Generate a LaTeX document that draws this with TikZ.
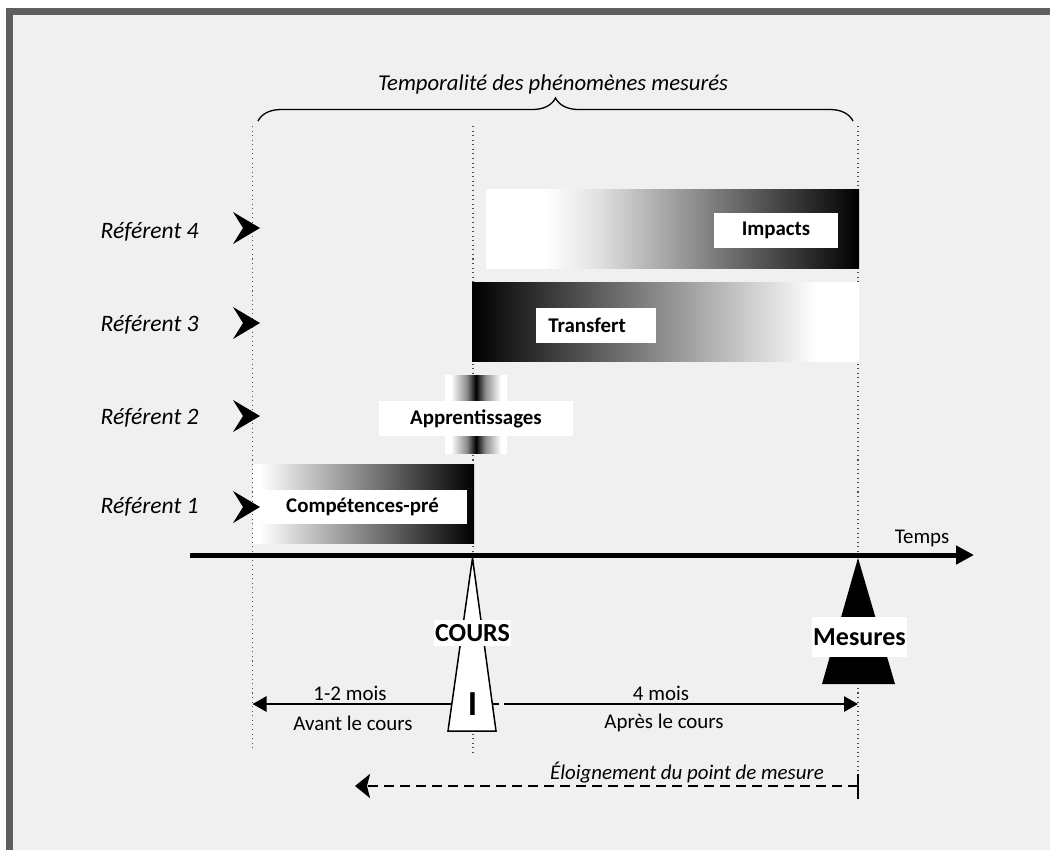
\documentclass[tikz,border=0pt]{standalone}
\usepackage{fontspec}
\setmainfont{Carlito}
\usetikzlibrary{arrows.meta,decorations.pathreplacing}

% gradients for the bars (central 25bp..75bp is stretched over the bar)
\pgfdeclarehorizontalshading{fadeToBlack}{100bp}{color(0bp)=(white); color(25bp)=(white); color(33bp)=(white); color(40bp)=(black!12); color(75bp)=(black); color(100bp)=(black)}
\pgfdeclarehorizontalshading{fadeFromBlack}{100bp}{color(0bp)=(black); color(25bp)=(black); color(69.5bp)=(white); color(100bp)=(white)}
\pgfdeclarehorizontalshading{preShade}{100bp}{color(0bp)=(white); color(26.5bp)=(white); color(75bp)=(black); color(100bp)=(black)}
\pgfdeclarehorizontalshading{peakShade}{100bp}{color(0bp)=(white); color(30bp)=(white); color(42.5bp)=(black!45); color(50bp)=(black); color(57.5bp)=(black!45); color(70bp)=(white); color(100bp)=(white)}

\definecolor{frameGray}{HTML}{5F5F5F}
\definecolor{paper}{HTML}{F0F0F0}

\tikzset{
  txt/.style={inner sep=0, font=\fontsize{11.9}{14}\selectfont},
  itxt/.style={inner sep=0, font=\fontsize{11.9}{14}\selectfont\itshape},
  reflab/.style={inner sep=0, font=\fontsize{13.4}{16}\selectfont\itshape, anchor=east},
  wbox/.style={fill=white, inner sep=0, font=\fontsize{11.9}{14}\selectfont\bfseries, minimum height=0.7cm},
  bigbox/.style={fill=white, inner sep=0, font=\fontsize{14.8}{17}\selectfont\bfseries},
  dotline/.style={dotted, line width=0.6pt, black!70},
  timeline/.style={line width=0.1cm, -{Triangle[length=0.36cm,width=0.36cm]}},
  spanarrow/.style={line width=0.055cm, -{Triangle[length=0.28cm,width=0.3cm]}},
  farther/.style={line width=0.05cm, dash pattern=on 0.2cm off 0.12cm, -{Stealth[length=0.3cm,width=0.48cm,inset=0.06cm]}},
  refarrow/.pic={\fill[black] (-13.5,-16) -- (13.5,0) -- (-13.5,16) -- (-3.5,0) -- cycle;}
}

\begin{document}
\begin{tikzpicture}[x=0.02cm, y=-0.02cm]
\useasboundingbox (0,0) rectangle (1050,850);

% frame and paper
\fill[white] (0,0) rectangle (1050,850);
\fill[frameGray] (6,8) rectangle (1050,850);
\fill[paper] (13,15) rectangle (1050,850);

% title and brace
\node[inner sep=0, font=\fontsize{12.9}{15}\selectfont\itshape] (title) at (553,84) {Temporalité des phénomènes mesurés};
\coordinate (braceL) at (258,121);
\coordinate (braceR) at (853,121);
\draw[decorate, decoration={brace, amplitude=0.46cm}, line width=0.75pt] (braceL) -- (braceR);

% vertical guides
\coordinate (gAtop) at (252.5,126); \coordinate (gAbot) at (252.5,748);
\coordinate (gBtop) at (473,126);   \coordinate (gBbot) at (473,755);
\coordinate (gCtop) at (858,126);   \coordinate (gCbot) at (858,774);
\draw[dotline] (gAtop) -- (gAbot);
\draw[dotline] (gBtop) -- (gBbot);
\draw[dotline] (gCtop) -- (gCbot);

% bars
\shade[shading=fadeToBlack] (486,189) rectangle (859,268);
\shade[shading=fadeFromBlack] (472,282) rectangle (859,361);
\shade[shading=peakShade] (445,375) rectangle (507,453);
\shade[shading=preShade] (253,464) rectangle (474,543);

% bar labels
\node[wbox, minimum width=2.48cm] (impacts) at (776,230.5) {Impacts};
\node[wbox, minimum width=2.4cm, text width=1.92cm, inner xsep=0.24cm, align=left, anchor=west] (transfert) at (536,325.5) {Transfert};
\node[wbox, minimum width=3.88cm] (apprent) at (476,418.5) {Apprentissages};
\node[wbox, minimum width=4.18cm, minimum height=0.68cm] (prior) at (362.5,507) {Compétences-pré};

% referents
\node[reflab] (ref4) at (199,232) {Référent 4};
\node[reflab] (ref3) at (199,325) {Référent 3};
\node[reflab] (ref2) at (199,418) {Référent 2};
\node[reflab] (ref1) at (199,507) {Référent 1};
\pic at (246.5,228) {refarrow};
\pic at (246.5,323) {refarrow};
\pic at (246.5,416) {refarrow};
\pic at (246.5,507) {refarrow};

% time axis
\coordinate (tStart) at (190,555);
\coordinate (tEnd) at (974,555);
\draw[timeline] (tStart) -- (tEnd);
\node[txt] (temps) at (922,538) {Temps};

% spans before and after the course
\coordinate (spanA) at (499,704);
\coordinate (spanL) at (252.5,704);
\coordinate (spanB) at (504,704);
\coordinate (spanR) at (858,704);
\draw[spanarrow] (spanA) -- (spanL);
\draw[spanarrow] (spanB) -- (spanR);
\node[txt] (m12) at (350,693) {1-2 mois};
\node[txt] (avant) at (353,723) {Avant le cours};
\node[txt] (m4) at (661,693) {4 mois};
\node[txt] (apres) at (664,723) {Après le cours};

% course marker
\draw[fill=white, line width=0.03cm, line join=miter] (472.5,558) -- (496,731) -- (448,731) -- cycle;
\node[bigbox, minimum width=1.54cm, minimum height=0.52cm] (cours) at (472.5,633) {COURS};
\node[inner sep=0, font=\fontsize{20}{22}\selectfont\bfseries] (one) at (472.5,704) {I};

% measurement marker
\fill[black] (858,558) -- (895,684) -- (822,684) -- cycle;
\node[bigbox, minimum width=1.9cm, minimum height=0.8cm] (mesures) at (859.5,637) {Mesures};

% distance from the measurement point
\coordinate (farR) at (858,786);
\coordinate (farL) at (355,786);
\coordinate (tickT) at (858,774);
\coordinate (tickB) at (858,799);
\draw[farther] (farR) -- (farL);
\draw[line width=0.03cm] (tickT) -- (tickB);
\node[itxt] (eloign) at (687,773) {Éloignement du point de mesure};
\end{tikzpicture}
\end{document}
